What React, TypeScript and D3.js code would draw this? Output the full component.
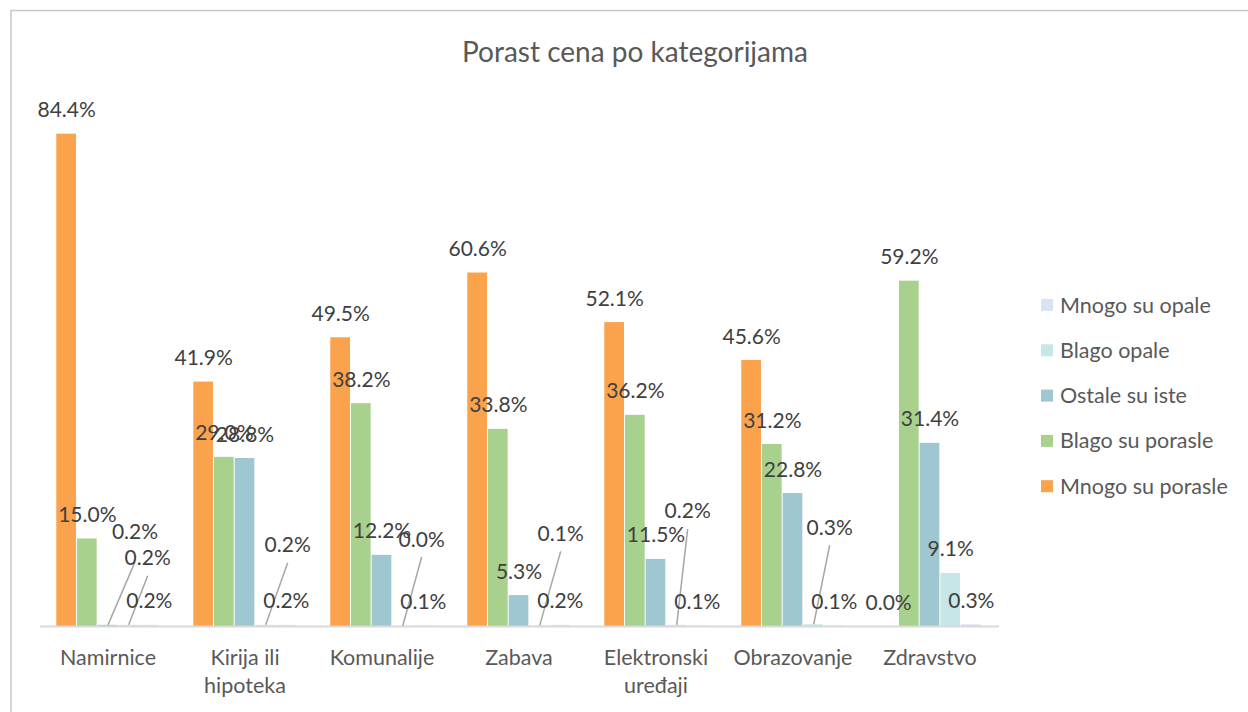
import React, { useEffect, useRef } from "react";
import { select, scaleBand, scaleLinear } from "d3";

const categories = [
  "Namirnice",
  "Kirija ili hipoteka",
  "Komunalije",
  "Zabava",
  "Elektronski uređaji",
  "Obrazovanje",
  "Zdravstvo",
];

const seriesNames = [
  "Mnogo su porasle",
  "Blago su porasle",
  "Ostale su iste",
  "Blago opale",
  "Mnogo su opale",
];

const mnogoPorasle = [84.4, 41.9, 49.5, 60.6, 52.1, 45.6, 0.0];
const blagoPorasle = [15.0, 29.0, 38.2, 33.8, 36.2, 31.2, 59.2];
const ostaleIste = [0.2, 28.8, 12.2, 5.3, 11.5, 22.8, 31.4];
const blagoOpale = [0.2, 0.2, 0.0, 0.1, 0.2, 0.3, 9.1];
const mnogoOpale = [0.2, 0.2, 0.1, 0.2, 0.1, 0.1, 0.3];

const seriesValues = [mnogoPorasle, blagoPorasle, ostaleIste, blagoOpale, mnogoOpale];

const colors = ["#FBA24D", "#A9D18E", "#9FC7D1", "#C6E6E7", "#DAE3F3"];

// labels that were dragged off their bar in the original (with leader lines)
const labelNudges = [
  { cat: 0, s: 2, dx: 27, dy: -69, lead: 30 },
  { cat: 0, s: 3, dx: 19, dy: -43, lead: 18 },
  { cat: 1, s: 3, dx: 22, dy: -56, lead: 18 },
  { cat: 2, s: 3, dx: 19, dy: -63, lead: 18 },
  { cat: 3, s: 3, dx: 21, dy: -68, lead: 18 },
  { cat: 4, s: 3, dx: 11, dy: -90, lead: 18 },
  { cat: 5, s: 3, dx: 16, dy: -73, lead: 18 },
];

const FONT = "Lato, 'Open Sans', sans-serif";

function wrapLabel(name: string) {
  if (name.length <= 12) return [name];
  const words = name.split(" ");
  return [words.slice(0, -1).join(" "), words[words.length - 1]];
}

export default function App() {
  const svgRef = useRef<SVGSVGElement>(null);

  useEffect(() => {
    const WIDTH = 1248;
    const HEIGHT = 712;
    const svg = select(svgRef.current);
    svg.selectAll("*").remove();
    svg.attr("width", WIDTH).attr("height", HEIGHT);

    svg.append("rect").attr("width", WIDTH).attr("height", HEIGHT).attr("fill", "#fff");

    // chart frame (only top and left edges are visible)
    svg.append("path")
      .attr("d", `M11,${HEIGHT} L11,10.5 L${WIDTH},10.5`)
      .attr("fill", "none")
      .attr("stroke", "#C8C8C8")
      .attr("stroke-width", 1.5);

    svg.append("text")
      .text("Porast cena po kategorijama")
      .attr("x", 635)
      .attr("y", 62)
      .attr("text-anchor", "middle")
      .attr("font-family", FONT)
      .attr("font-size", 28)
      .attr("fill", "#595959");

    const x0 = scaleBand<string>()
      .domain(categories)
      .range([39.5, 998.5])
      .paddingInner(0.245)
      .paddingOuter(0.1225);
    const x1 = scaleBand<number>()
      .domain(seriesNames.map((_, i) => i))
      .range([0, x0.bandwidth()]);
    const y = scaleLinear().domain([0, 90]).range([626, 101]);

    const chart = svg.append("g");

    const rows = categories.flatMap((cat, ci) =>
      seriesValues.map((vals, si) => ({ cat, ci, si, v: vals[ci] }))
    );

    chart.selectAll(".bar")
      .data(rows)
      .join("rect")
      .classed("bar", true)
      .attr("x", (d) => (x0(d.cat) as number) + (x1(d.si) as number))
      .attr("width", x1.bandwidth() - 1)
      .attr("y", (d) => y(d.v))
      .attr("height", (d) => y(0) - y(d.v))
      .attr("fill", (d) => colors[d.si]);

    // axis baseline
    chart.append("line")
      .attr("x1", 40)
      .attr("x2", 999)
      .attr("y1", y(0) + 0.5)
      .attr("y2", y(0) + 0.5)
      .attr("stroke", "#D9D9D9")
      .attr("stroke-width", 2);

    const labelPos = (d: typeof rows[number]) => {
      const cx = (x0(d.cat) as number) + (x1(d.si) as number) + x1.bandwidth() / 2;
      const cy = y(d.v) - 24;
      const n = labelNudges.find((k) => k.cat === d.ci && k.s === d.si);
      return { bx: cx, by: y(d.v), lx: cx + (n ? n.dx : 0), ly: cy + (n ? n.dy : 0), n };
    };

    // leader lines
    chart.selectAll(".leader")
      .data(rows.filter((d) => labelPos(d).n))
      .join("line")
      .classed("leader", true)
      .attr("x1", (d) => labelPos(d).bx)
      .attr("y1", (d) => labelPos(d).by)
      .attr("x2", (d) => labelPos(d).lx)
      .attr("y2", (d) => labelPos(d).ly + (labelPos(d).n as any).lead)
      .attr("stroke", "#A6A6A6")
      .attr("stroke-width", 1.5);

    chart.selectAll(".label")
      .data(rows)
      .join("text")
      .classed("label", true)
      .text((d) => d.v.toFixed(1) + "%")
      .attr("x", (d) => labelPos(d).lx)
      .attr("y", (d) => labelPos(d).ly + 7.5)
      .attr("text-anchor", "middle")
      .attr("font-family", FONT)
      .attr("font-size", 21)
      .attr("fill", "#404040");

    // category labels
    const ticks = chart.selectAll(".tick")
      .data(categories)
      .join("text")
      .classed("tick", true)
      .attr("x", (d) => (x0(d) as number) + x0.bandwidth() / 2)
      .attr("y", 664.5)
      .attr("text-anchor", "middle")
      .attr("font-family", FONT)
      .attr("font-size", 21.5)
      .attr("fill", "#595959");
    ticks.each(function (d) {
      const t = select(this);
      wrapLabel(d).forEach((line, i) => {
        t.append("tspan")
          .attr("x", t.attr("x"))
          .attr("dy", i === 0 ? 0 : 28)
          .text(line);
      });
    });

    // legend, reversed order like Excel
    const legend = svg.append("g").attr("transform", "translate(1041, 305)");
    const items = seriesNames.map((name, i) => ({ name, i })).reverse();
    const item = legend.selectAll(".item")
      .data(items)
      .join("g")
      .classed("item", true)
      .attr("transform", (_, k) => `translate(0, ${k * 45.3})`);
    item.append("rect")
      .attr("x", 0)
      .attr("y", -6)
      .attr("width", 12)
      .attr("height", 12)
      .attr("fill", (d) => colors[d.i]);
    item.append("text")
      .text((d) => d.name)
      .attr("x", 19)
      .attr("y", 7.5)
      .attr("font-family", FONT)
      .attr("font-size", 21.5)
      .attr("fill", "#595959");
  }, []);

  return (
    <div style={{ position: "absolute", left: 0, top: 0 }}>
      <svg ref={svgRef} style={{ display: "block" }}></svg>
    </div>
  );
}
